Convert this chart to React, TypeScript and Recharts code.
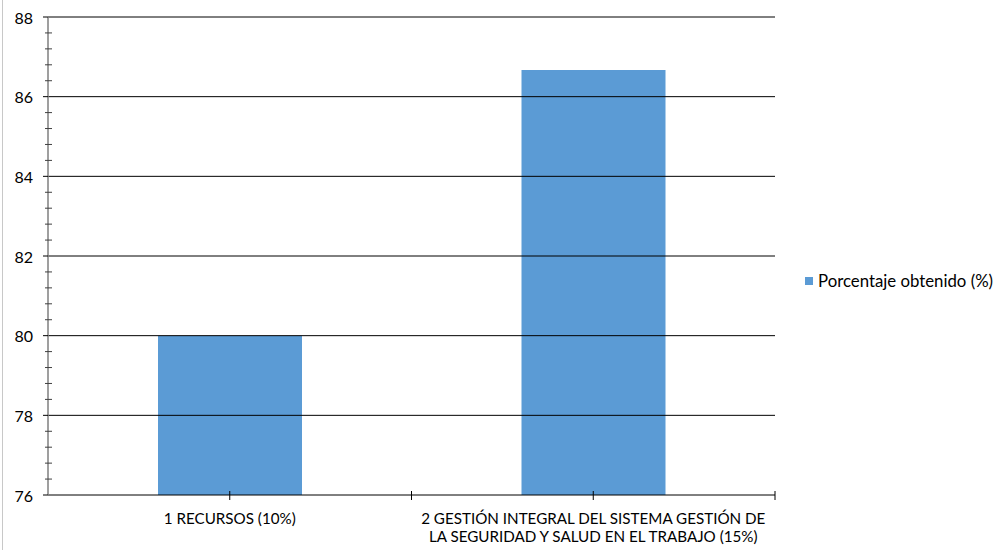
import React from "react";
import { BarChart, Bar, XAxis, YAxis, ReferenceLine } from "recharts";

const categories = [
  "1 RECURSOS (10%)",
  "2 GESTIÓN INTEGRAL DEL SISTEMA GESTIÓN DE\nLA SEGURIDAD Y SALUD EN EL TRABAJO (15%)",
];
const porcentaje = [80, 86.67];
const majorTicks = [76, 78, 80, 82, 84, 86, 88];
const minorTicks = [
  76.4, 76.8, 77.2, 77.6, 78.4, 78.8, 79.2, 79.6, 80.4, 80.8, 81.2, 81.6,
  82.4, 82.8, 83.2, 83.6, 84.4, 84.8, 85.2, 85.6, 86.4, 86.8, 87.2, 87.6,
];
const seriesName = "Porcentaje obtenido (%)";

const data = categories.map((name, i) => ({ name, value: porcentaje[i] }));
const allTicks = [...majorTicks, ...minorTicks].sort((a, b) => a - b);

const FONT = "Lato, 'Open Sans', sans-serif";
const BAR_COLOR = "#5B9BD5";
const HALF_BAND = (775 - 48) / categories.length / 2;

const YTick = (props: any) => {
  const { x, y, payload } = props;
  const isMajor = majorTicks.includes(payload.value);
  if (!isMajor) {
    return <line x1={x - 3} x2={x + 4} y1={y} y2={y} stroke="#404040" strokeWidth={1} />;
  }
  return (
    <g>
      <line x1={x - 5} x2={x} y1={y} y2={y} stroke="#000" strokeWidth={1} />
      <text
        x={x - 15}
        y={y}
        textAnchor="end"
        dominantBaseline="central"
        fontSize={16}
        fontFamily={FONT}
        fill="#000"
      >
        {payload.value}
      </text>
    </g>
  );
};

const XTick = (props: any) => {
  const { x, y, payload } = props;
  const lines = String(payload.value).split("\n");
  return (
    <g>
      <line x1={x} x2={x} y1={y - 4} y2={y + 5} stroke="#000" />
      <line x1={x + HALF_BAND} x2={x + HALF_BAND} y1={y - 4} y2={y + 5} stroke="#000" />
      {lines.map((line, i) => (
        <text
          key={i}
          x={x}
          y={y + 29 + i * 18}
          textAnchor="middle"
          fontSize={15.2}
          fontFamily={FONT}
          fill="#000"
        >
          {line}
        </text>
      ))}
    </g>
  );
};

// legend drawn outside the chart so it does not shrink the plot area
const LegendBox = () => (
  <div
    style={{
      position: "absolute",
      left: 805,
      top: 270,
      display: "flex",
      alignItems: "center",
      fontFamily: FONT,
      fontSize: 16.8,
      color: "#000",
      whiteSpace: "nowrap",
    }}
  >
    <span
      style={{
        display: "inline-block",
        width: 8,
        height: 8,
        background: BAR_COLOR,
        marginRight: 5,
      }}
    />
    {seriesName}
  </div>
);

export default function App() {
  return (
    <div
      style={{
        position: "absolute",
        left: 0,
        top: 0,
        width: 999,
        height: 550,
        background: "#fff",
      }}
    >
      <div
        style={{
          position: "absolute",
          left: 2,
          top: 0,
          width: 1,
          height: 550,
          background: "#c8c8c8",
        }}
      />
      <BarChart
        width={999}
        height={550}
        data={data}
        margin={{ top: 17, right: 224, bottom: 0, left: 0 }}
      >
        <XAxis
          dataKey="name"
          interval={0}
          axisLine={{ stroke: "#000", strokeWidth: 1 }}
          tickLine={false}
          tickSize={0}
          tickMargin={0}
          height={55}
          tick={<XTick />}
        />
        <YAxis
          type="number"
          domain={[76, 88]}
          ticks={allTicks}
          interval={0}
          allowDataOverflow
          width={48}
          axisLine={{ stroke: "#7f7f7f", strokeWidth: 1.5 }}
          tickLine={false}
          tickSize={0}
          tickMargin={0}
          tick={<YTick />}
        />
        {majorTicks.slice(1).map((v) => (
          <ReferenceLine key={v} y={v} stroke="#000" strokeWidth={1} />
        ))}
        <Bar
          dataKey="value"
          name={seriesName}
          fill={BAR_COLOR}
          barSize={144}
          isAnimationActive={false}
        />
      </BarChart>
      <LegendBox />
    </div>
  );
}
